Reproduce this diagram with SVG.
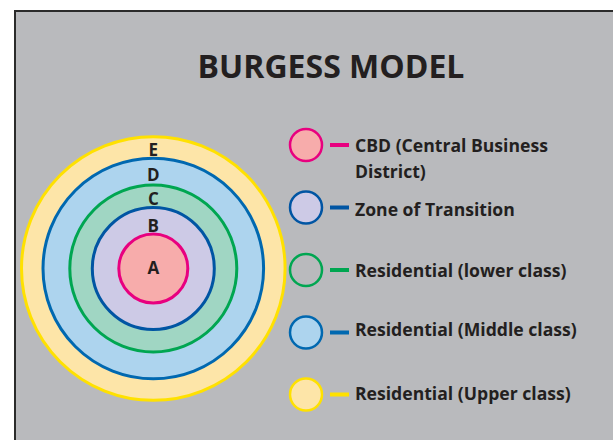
<svg xmlns="http://www.w3.org/2000/svg" width="613" height="440" viewBox="0 0 613 440">
<style>
text{font-family:"Open Sans","Liberation Sans",sans-serif;font-weight:bold;fill:#231f20}
.lbl{font-size:17px;text-anchor:middle}
.leg{font-size:17.6px}
.ring{stroke-width:3}
.lc{stroke-width:2.5}
</style>
<rect x="0" y="0" width="613" height="440" fill="#ffffff"/>
<rect x="15" y="11" width="610" height="440" fill="#b9babd" stroke="#2b2b2b" stroke-width="2"/>
<text x="331" y="78" font-size="32" text-anchor="middle">BURGESS MODEL</text>
<g id="ringE"><circle class="ring" cx="153.3" cy="268.5" r="131.8" fill="#fde5a8" stroke="#ffe100"/><text class="lbl" x="153.3" y="156">E</text></g>
<g id="ringD"><circle class="ring" cx="153.3" cy="268.5" r="110.3" fill="#add4ee" stroke="#0068b0"/><text class="lbl" x="153.3" y="181">D</text></g>
<g id="ringC"><circle class="ring" cx="153.3" cy="268.5" r="83.5" fill="#a0d6c3" stroke="#00a651"/><text class="lbl" x="153.3" y="205">C</text></g>
<g id="ringB"><circle class="ring" cx="153.3" cy="268.5" r="61" fill="#cdcae6" stroke="#0055a3"/><text class="lbl" x="153.3" y="232">B</text></g>
<g id="ringA"><circle class="ring" cx="153.3" cy="268.5" r="34.5" fill="#f7acab" stroke="#e8007f"/><text class="lbl" x="153.3" y="274">A</text></g>
<g id="legCBD"><circle class="lc" cx="306" cy="145" r="16" fill="#f7acab" stroke="#e8007f"/><rect x="330" y="143" width="19" height="4" fill="#e8007f"/><text class="leg" x="355" y="152">CBD (Central Business</text><text class="leg" x="355" y="177.5">District)</text></g>
<g id="legZone"><circle class="lc" cx="306" cy="207.5" r="16" fill="#cdcae6" stroke="#0055a3"/><rect x="330" y="205.5" width="19" height="4" fill="#0055a3"/><text class="leg" x="355" y="216">Zone of Transition</text></g>
<g id="legLower"><circle class="lc" cx="306" cy="270" r="16" fill="none" stroke="#00a651"/><rect x="330" y="268" width="19" height="4" fill="#00a651"/><text class="leg" x="355" y="276.5">Residential (lower class)</text></g>
<g id="legMiddle"><circle class="lc" cx="306" cy="332.5" r="16" fill="#add4ee" stroke="#0068b0"/><rect x="330" y="330.5" width="19" height="4" fill="#0068b0"/><text class="leg" x="355" y="336">Residential (Middle class)</text></g>
<g id="legUpper"><circle class="lc" cx="306" cy="394.5" r="16" fill="#fde5a8" stroke="#ffe100"/><rect x="330" y="392.5" width="19" height="4" fill="#ffe100"/><text class="leg" x="355" y="400">Residential (Upper class)</text></g>
<g id="connectors"></g>
</svg>
